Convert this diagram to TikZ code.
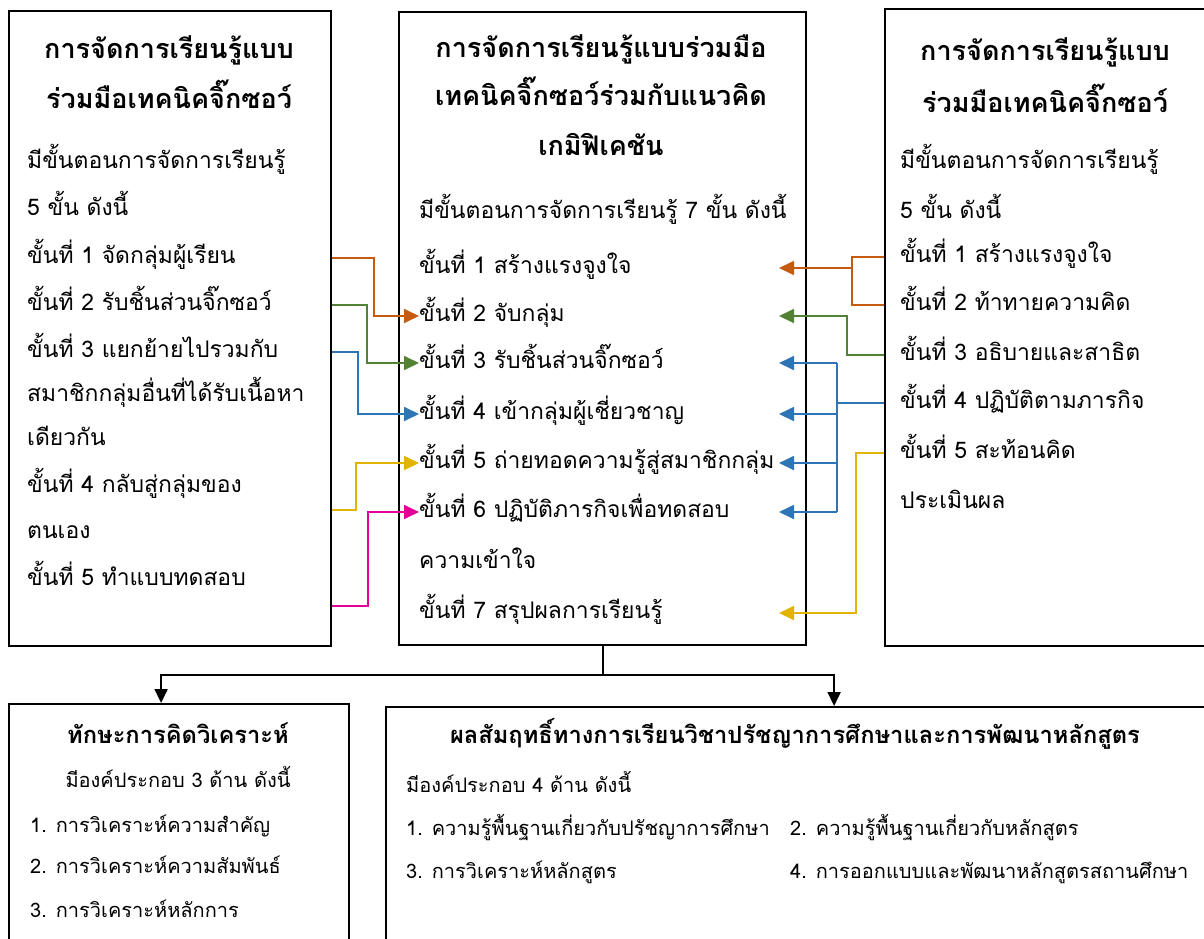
\documentclass[tikz,border=0pt]{standalone}
\usepackage{fontspec}
\setmainfont[Script=Thai]{Loma}
\usetikzlibrary{calc, positioning, arrows.meta}

\definecolor{ordk}{RGB}{197,90,17}
\definecolor{grdk}{RGB}{84,130,53}
\definecolor{bldk}{RGB}{46,117,182}
\definecolor{yldk}{RGB}{226,180,0}
\definecolor{mgdk}{RGB}{228,0,150}

\tikzset{
  box/.style={draw, line width=2.2pt, anchor=north west, inner sep=0pt},
  head/.style={font=\fontsize{27}{32}\selectfont\bfseries, inner sep=0pt, text height=18pt, text depth=7pt},
  subhead/.style={head, font=\fontsize{23.7}{28}\selectfont\bfseries},
  txt/.style={font=\fontsize{22.9}{27}\selectfont, anchor=west, inner sep=0pt, text height=16pt, text depth=5pt},
  small/.style={txt, font=\fontsize{20}{24}\selectfont},
  link/.style={line width=1.8pt, -{Triangle[length=15pt,width=14pt]}},
  plain/.style={line width=1.8pt},
}

\begin{document}
\begin{tikzpicture}[x=1pt, y=-1pt]
  \useasboundingbox (0,0) rectangle (1204,938);
  \clip (0,0) rectangle (1204,938);

  % Boxes
  \node[box, minimum width=322pt, minimum height=635pt] (lbox) at (8,10) {};
  \node[box, minimum width=407pt, minimum height=633pt] (mbox) at (398,11) {};
  \node[box, minimum width=322pt, minimum height=637pt] (rbox) at (884,8) {};
  \node[box, minimum width=340pt, minimum height=260pt] (obox) at (8,703) {};
  \node[box, minimum width=820pt, minimum height=260pt] (pbox) at (385,706) {};

  % Titles
  \node[head] (lt1) at (169,53) {การจัดการเรียนรู้แบบ};
  \node[head] (lt2) at (169,103) {ร่วมมือเทคนิคจิ๊กซอว์};
  \node[head] (mt1) at (601,52) {การจัดการเรียนรู้แบบร่วมมือ};
  \node[head] (mt2) at (601,100) {เทคนิคจิ๊กซอว์ร่วมกับแนวคิด};
  \node[head] (mt3) at (601,150) {เกมิฟิเคชัน};
  \node[head] (rt1) at (1045,55) {การจัดการเรียนรู้แบบ};
  \node[head] (rt2) at (1045,107) {ร่วมมือเทคนิคจิ๊กซอว์};
  \node[subhead] (ot) at (178,738) {ทักษะการคิดวิเคราะห์};
  \node[subhead] (pt) at (795,738) {ผลสัมฤทธิ์ทางการเรียนวิชาปรัชญาการศึกษาและการพัฒนาหลักสูตร};

  % Left steps
  \foreach \i/\y/\t in {1/163/มีขั้นตอนการจัดการเรียนรู้, 2/210/5 ขั้น ดังนี้,
      3/258/ขั้นที่ 1 จัดกลุ่มผู้เรียน, 4/305/ขั้นที่ 2 รับชิ้นส่วนจิ๊กซอว์,
      5/352/ขั้นที่ 3 แยกย้ายไปรวมกับ, 6/396/สมาชิกกลุ่มอื่นที่ได้รับเนื้อหา,
      7/440/เดียวกัน, 8/487/ขั้นที่ 4 กลับสู่กลุ่มของ, 9/533/ตนเอง,
      10/580/ขั้นที่ 5 ทำแบบทดสอบ}
    \node[txt] (l\i) at (27,\y) {\t};

  % Middle steps
  \foreach \i/\y/\t in {1/213/มีขั้นตอนการจัดการเรียนรู้ 7 ขั้น ดังนี้,
      2/268/ขั้นที่ 1 สร้างแรงจูงใจ, 3/316/ขั้นที่ 2 จับกลุ่ม,
      4/363/ขั้นที่ 3 รับชิ้นส่วนจิ๊กซอว์, 5/414/ขั้นที่ 4 เข้ากลุ่มผู้เชี่ยวชาญ,
      6/463/ขั้นที่ 5 ถ่ายทอดความรู้สู่สมาชิกกลุ่ม, 7/512/ขั้นที่ 6 ปฏิบัติภารกิจเพื่อทดสอบ,
      8/563/ความเข้าใจ, 9/613/ขั้นที่ 7 สรุปผลการเรียนรู้}
    \node[txt] (m\i) at (419,\y) {\t};

  % Right steps
  \foreach \i/\y/\t in {1/163/มีขั้นตอนการจัดการเรียนรู้, 2/213/5 ขั้น ดังนี้,
      3/257/ขั้นที่ 1 สร้างแรงจูงใจ, 4/305/ขั้นที่ 2 ท้าทายความคิด,
      5/355/ขั้นที่ 3 อธิบายและสาธิต, 6/403/ขั้นที่ 4 ปฏิบัติตามภารกิจ,
      7/453/ขั้นที่ 5 สะท้อนคิด, 8/503/ประเมินผล}
    \node[txt] (r\i) at (900,\y) {\t};

  % Outcome boxes
  \node[small, anchor=center] (o1) at (178,782) {มีองค์ประกอบ 3 ด้าน ดังนี้};
  \foreach \i/\y/\t in {2/827/1. การวิเคราะห์ความสำคัญ, 3/868/2. การวิเคราะห์ความสัมพันธ์,
      4/912/3. การวิเคราะห์หลักการ}
    \node[small] (o\i) at (30,\y) {\t};
  \foreach \i/\x/\y/\t in {1/406/787/มีองค์ประกอบ 4 ด้าน ดังนี้,
      2/406/830/1. ความรู้พื้นฐานเกี่ยวกับปรัชญาการศึกษา, 3/790/830/2. ความรู้พื้นฐานเกี่ยวกับหลักสูตร,
      4/406/873/3. การวิเคราะห์หลักสูตร, 5/790/873/4. การออกแบบและพัฒนาหลักสูตรสถานศึกษา}
    \node[small] (p\i) at (\x,\y) {\t};

  % Left links
  \coordinate (ly) at ($(l8)!0.5!(l9)$);
  \coordinate (lm) at ([yshift=-26pt]l10.west);
  \draw[link, ordk] (lbox.east |- l3) -| ([xshift=-45pt]m3.west) -- (m3.west);
  \draw[link, grdk] (lbox.east |- l4) -| ([xshift=-52pt]m4.west) -- (m4.west);
  \draw[link, bldk] (lbox.east |- l5) -| ([xshift=-61pt]m5.west) -- (m5.west);
  \draw[link, yldk] (lbox.east |- ly) -| ([xshift=-63pt]m6.west) -- (m6.west);
  \draw[link, mgdk] (lbox.east |- lm) -| ([xshift=-51pt]m7.west) -- (m7.west);

  % Right links
  \coordinate (tip) at (779,0);
  \coordinate (oj) at (852,0);
  \coordinate (gj) at (847,0);
  \coordinate (bj) at (837,0);
  \coordinate (yj) at (856,0);
  \draw[plain, ordk] (rbox.west |- r3) -| (oj |- r4) -- (rbox.west |- r4);
  \draw[link, ordk] (oj |- m2) -- (tip |- m2);
  \draw[link, grdk] (rbox.west |- r5) -| (gj |- m3) -- (tip |- m3);
  \draw[plain, bldk] (rbox.west |- r6) -- (bj |- r6);
  \draw[plain, bldk] (bj |- m4) -- (bj |- m7);
  \foreach \k in {4,5,6,7}
    \draw[link, bldk] (bj |- m\k) -- (tip |- m\k);
  \draw[link, yldk] (rbox.west |- r7) -| (yj |- m9) -- (tip |- m9);

  % Down to outcomes
  \draw[plain] (mbox.south) -- ++(0,29) coordinate (split);
  \draw[plain, -{Triangle[length=14pt,width=13pt]}] (split) -| ([xshift=-18pt]obox.north);
  \draw[plain, -{Triangle[length=14pt,width=13pt]}] (split) -| ([xshift=38pt]pbox.north);
\end{tikzpicture}
\end{document}
